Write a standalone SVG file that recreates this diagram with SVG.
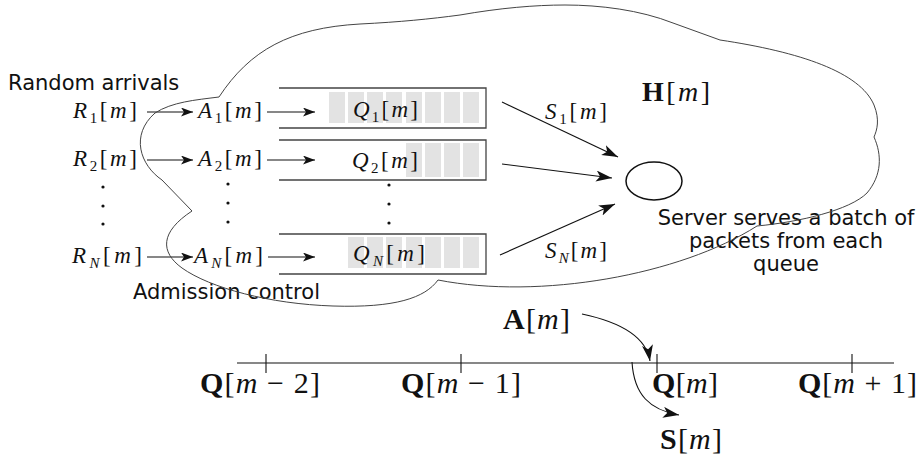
<svg xmlns="http://www.w3.org/2000/svg" width="921" height="462" viewBox="0 0 921 462">
<style>
.txt{font-family:"DejaVu Sans","Noto Sans",sans-serif;font-size:21px;fill:#111}
.m{font-family:"Liberation Serif","DejaVu Serif",serif;font-size:23px;fill:#111}
.M{font-family:"Liberation Serif","DejaVu Serif",serif;font-size:30px;fill:#111}
.i{font-style:italic}
.b{font-weight:bold}
.sub{font-size:15px}
.ln{stroke:#111;stroke-width:1.1;fill:none}
.box{stroke:#444;stroke-width:1.3;fill:none}
.cell{fill:#e3e3e3}
.cloud{stroke:#444;stroke-width:1;fill:none}
.dot{fill:#111}
</style>
<defs>
<marker id="ah" markerUnits="userSpaceOnUse" markerWidth="14" markerHeight="10" refX="12" refY="4.5" orient="auto">
<path d="M0,0 L12,4.5 L0,9 L3,4.5 Z" fill="#111"/>
</marker>
<marker id="ahL" markerUnits="userSpaceOnUse" markerWidth="18" markerHeight="12" refX="16" refY="5.5" orient="auto">
<path d="M0,0 L16,5.5 L0,11 L4,5.5 Z" fill="#111"/>
</marker>
</defs>

<g id="labels">
<text class="txt" x="8" y="90">Random arrivals</text>
<text class="txt" x="133" y="299">Admission control</text>
</g>

<g id="sources">
<text class="m" x="73" y="118" textLength="64" lengthAdjust="spacing"><tspan class="i">R</tspan><tspan class="sub" dy="5">1</tspan><tspan dy="-5">[</tspan><tspan class="i">m</tspan>]</text>
<text class="m" x="73" y="166" textLength="64" lengthAdjust="spacing"><tspan class="i">R</tspan><tspan class="sub" dy="5">2</tspan><tspan dy="-5">[</tspan><tspan class="i">m</tspan>]</text>
<text class="m" x="72" y="263" textLength="70" lengthAdjust="spacing"><tspan class="i">R</tspan><tspan class="sub i" dy="5">N</tspan><tspan dy="-5">[</tspan><tspan class="i">m</tspan>]</text>
<circle class="dot" cx="103" cy="187" r="1.6"/>
<circle class="dot" cx="103" cy="206" r="1.6"/>
<circle class="dot" cx="103" cy="224" r="1.6"/>
</g>

<g id="admitted">
<text class="m" x="198" y="118" textLength="64" lengthAdjust="spacing"><tspan class="i">A</tspan><tspan class="sub" dy="5">1</tspan><tspan dy="-5">[</tspan><tspan class="i">m</tspan>]</text>
<text class="m" x="198" y="166" textLength="64" lengthAdjust="spacing"><tspan class="i">A</tspan><tspan class="sub" dy="5">2</tspan><tspan dy="-5">[</tspan><tspan class="i">m</tspan>]</text>
<text class="m" x="194" y="263" textLength="69" lengthAdjust="spacing"><tspan class="i">A</tspan><tspan class="sub i" dy="5">N</tspan><tspan dy="-5">[</tspan><tspan class="i">m</tspan>]</text>
<circle class="dot" cx="228" cy="184" r="1.6"/>
<circle class="dot" cx="228" cy="203" r="1.6"/>
<circle class="dot" cx="228" cy="222" r="1.6"/>
</g>

<g id="queue1">
<rect class="cell" x="329" y="92" width="16" height="31"/>
<rect class="cell" x="348" y="92" width="16" height="31"/>
<rect class="cell" x="367" y="92" width="16" height="31"/>
<rect class="cell" x="386" y="92" width="16" height="31"/>
<rect class="cell" x="406" y="92" width="16" height="31"/>
<rect class="cell" x="425" y="92" width="16" height="31"/>
<rect class="cell" x="444" y="92" width="16" height="31"/>
<rect class="cell" x="463" y="92" width="16" height="31"/>
<path class="box" d="M279,88 H486 V128 H279"/>
<text class="m" x="353" y="117" textLength="65" lengthAdjust="spacing"><tspan class="i">Q</tspan><tspan class="sub" dy="5">1</tspan><tspan dy="-5">[</tspan><tspan class="i">m</tspan>]</text>
</g>

<g id="queue2">
<rect class="cell" x="406" y="143" width="16" height="34"/>
<rect class="cell" x="425" y="143" width="16" height="34"/>
<rect class="cell" x="444" y="143" width="16" height="34"/>
<rect class="cell" x="463" y="143" width="16" height="34"/>
<path class="box" d="M279,140 H486 V180 H279"/>
<text class="m" x="352" y="168" textLength="66" lengthAdjust="spacing"><tspan class="i">Q</tspan><tspan class="sub" dy="5">2</tspan><tspan dy="-5">[</tspan><tspan class="i">m</tspan>]</text>
<circle class="dot" cx="389" cy="185" r="1.6"/>
<circle class="dot" cx="389" cy="204" r="1.6"/>
<circle class="dot" cx="389" cy="223" r="1.6"/>
</g>

<g id="queueN">
<rect class="cell" x="348" y="237" width="16" height="31"/>
<rect class="cell" x="367" y="237" width="16" height="31"/>
<rect class="cell" x="386" y="237" width="16" height="31"/>
<rect class="cell" x="406" y="237" width="16" height="31"/>
<rect class="cell" x="425" y="237" width="16" height="31"/>
<rect class="cell" x="444" y="237" width="16" height="31"/>
<rect class="cell" x="463" y="237" width="16" height="31"/>
<path class="box" d="M279,234 H486 V274 H279"/>
<text class="m" x="353" y="261" textLength="72" lengthAdjust="spacing"><tspan class="i">Q</tspan><tspan class="sub i" dy="5">N</tspan><tspan dy="-5">[</tspan><tspan class="i">m</tspan>]</text>
</g>

<g id="server">
<ellipse cx="654" cy="181" rx="28" ry="19" fill="none" stroke="#111" stroke-width="1.5"/>
<text class="txt" text-anchor="middle" x="786" y="225">Server serves a batch of</text>
<text class="txt" text-anchor="middle" x="786" y="248">packets from each</text>
<text class="txt" text-anchor="middle" x="786" y="271">queue</text>
</g>

<g id="channel">
<text class="M" x="642" y="101" style="font-size:28px" textLength="68" lengthAdjust="spacing"><tspan class="b">H</tspan>[<tspan class="i">m</tspan>]</text>
</g>

<g id="connectors">
<line class="ln" x1="147" y1="112" x2="193" y2="112" marker-end="url(#ah)"/>
<line class="ln" x1="267" y1="112" x2="315" y2="112" marker-end="url(#ah)"/>
<line class="ln" x1="147" y1="160" x2="193" y2="160" marker-end="url(#ah)"/>
<line class="ln" x1="267" y1="160" x2="315" y2="160" marker-end="url(#ah)"/>
<line class="ln" x1="147" y1="257" x2="193" y2="257" marker-end="url(#ah)"/>
<line class="ln" x1="268" y1="257" x2="315" y2="257" marker-end="url(#ah)"/>
<line class="ln" x1="502" y1="102" x2="618" y2="157" marker-end="url(#ahL)"/>
<line class="ln" x1="502" y1="164" x2="612" y2="178" marker-end="url(#ahL)"/>
<line class="ln" x1="500" y1="255" x2="615" y2="204" marker-end="url(#ahL)"/>
<text class="m" x="545" y="119" textLength="62" lengthAdjust="spacing"><tspan class="i">S</tspan><tspan class="sub" dy="5">1</tspan><tspan dy="-5">[</tspan><tspan class="i">m</tspan>]</text>
<text class="m" x="545" y="258" textLength="62" lengthAdjust="spacing"><tspan class="i">S</tspan><tspan class="sub i" dy="5">N</tspan><tspan dy="-5">[</tspan><tspan class="i">m</tspan>]</text>
<path class="ln" d="M582,314 C620,322 646,336 650,361" marker-end="url(#ahL)"/>
<path class="ln" d="M632,362 C634,395 650,410 679,415" marker-end="url(#ahL)"/>
</g>

<g id="timeline">
<line class="ln" x1="237" y1="363" x2="894" y2="363"/>
<line class="ln" x1="266" y1="354" x2="266" y2="373"/>
<line class="ln" x1="461" y1="354" x2="461" y2="373"/>
<line class="ln" x1="657" y1="354" x2="657" y2="373"/>
<line class="ln" x1="852" y1="354" x2="852" y2="373"/>
<text class="M" x="503" y="329" textLength="67" lengthAdjust="spacing"><tspan class="b">A</tspan>[<tspan class="i">m</tspan>]</text>
<text class="M" x="200" y="393" textLength="120" lengthAdjust="spacing"><tspan class="b">Q</tspan>[<tspan class="i">m</tspan> − 2]</text>
<text class="M" x="401" y="393" textLength="120" lengthAdjust="spacing"><tspan class="b">Q</tspan>[<tspan class="i">m</tspan> − 1]</text>
<text class="M" x="652" y="393" textLength="66" lengthAdjust="spacing"><tspan class="b">Q</tspan>[<tspan class="i">m</tspan>]</text>
<text class="M" x="798" y="393" textLength="119" lengthAdjust="spacing"><tspan class="b">Q</tspan>[<tspan class="i">m</tspan> + 1]</text>
<text class="M" x="660" y="449" textLength="62" lengthAdjust="spacing"><tspan class="b">S</tspan>[<tspan class="i">m</tspan>]</text>
</g>

<path class="cloud" d="M219,97 C250,50 290,28 360,24 C400,22 430,19 460,15 C500,8 535,5 565,5 C600,5 640,10 673,23 L720,40 C800,52 860,72 874,105 C880,120 877,130 874,137 C882,155 882,175 867,193 C850,210 800,222 757,226 C680,275 540,300 438,280 C425,298 395,308 333,306 C270,304 210,288 182,268 C160,252 160,232 192,211 L162,180 C140,165 130,135 155,113 C172,102 195,100 219,97 Z"/>
</svg>
